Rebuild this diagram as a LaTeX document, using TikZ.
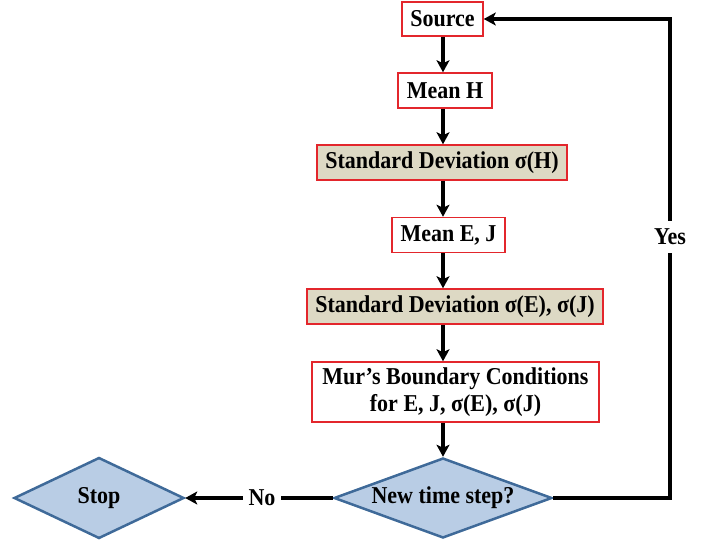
\documentclass[tikz,border=0pt]{standalone}
\usepackage{fontspec}
\setmainfont{Liberation Serif}
\usetikzlibrary{shapes.geometric,arrows.meta}
\definecolor{boxred}{HTML}{E3262C}
\definecolor{tanfill}{HTML}{DDD9C4}
\definecolor{dfill}{HTML}{B9CDE5}
\definecolor{dborder}{HTML}{3F6A99}
\newcommand{\vstr}[1]{\scalebox{1}[1.1]{#1}}
\tikzset{
  txt/.style={font=\fontsize{22}{27}\selectfont\bfseries},
  rbox/.style={txt, draw=boxred, line width=1.5pt, fill=white, inner sep=0pt, minimum height=35pt},
  tbox/.style={rbox, fill=tanfill},
  dbox/.style={txt, diamond, aspect=2.7, draw=dborder, line width=2.5pt, fill=dfill, inner sep=0pt},
  flow/.style={line width=3.5pt, -{Stealth[length=12pt,width=13pt,inset=3pt]}},
  lab/.style={txt, fill=white}
}
\begin{document}
\begin{tikzpicture}[x=1pt,y=-1pt]
\useasboundingbox (0,0) rectangle (718,546);
\coordinate (ax) at (443,0);
\node[rbox, minimum width=81pt, minimum height=34pt] (src) at (442.5,19) {\vstr{Source}};
\node[rbox, minimum width=94pt] (meanH) at (445,90.5) {\vstr{Mean H}};
\node[tbox, minimum width=250pt] (sdH) at (442,162.5) {\vstr{Standard Deviation σ(H)}};
\node[rbox, minimum width=113pt] (meanEJ) at (448.5,235) {\vstr{Mean E, J}};
\node[tbox, minimum width=296pt] (sdEJ) at (455,306.5) {\vstr{Standard Deviation σ(E), σ(J)}};
\node[rbox, minimum width=287pt, minimum height=60pt, align=center] (mur) at (455.5,392) {\vstr{Mur’s Boundary Conditions}\\\vstr{for E, J, σ(E), σ(J)}};
\node[dbox, minimum width=218pt, minimum height=80pt] (nts) at (443,498) {\vstr{New time step?}};
\node[dbox, minimum width=170pt, minimum height=81pt] (stop) at (99,498) {\vstr{Stop}};
\coordinate (c1) at (670,498);
\coordinate (c2) at (670,19);
\draw[flow] (src.south -| ax) -- (meanH.north -| ax);
\draw[flow] (meanH.south -| ax) -- (sdH.north -| ax);
\draw[flow] (sdH.south -| ax) -- (meanEJ.north -| ax);
\draw[flow] (meanEJ.south -| ax) -- (sdEJ.north -| ax);
\draw[flow] (sdEJ.south -| ax) -- (mur.north -| ax);
\draw[flow] (mur.south -| ax) -- (nts.north);
\draw[flow] (nts.west) -- (stop.east);
\draw[flow, line join=miter] (nts.east) -- (c1) -- (c2) -- (src.east);
\node[lab, inner xsep=6pt, inner ysep=2pt] (no) at (262,498) {\vstr{No}};
\node[lab, inner xsep=3pt, inner ysep=8pt] (yes) at (670,237) {\vstr{Yes}};
\end{tikzpicture}
\end{document}
